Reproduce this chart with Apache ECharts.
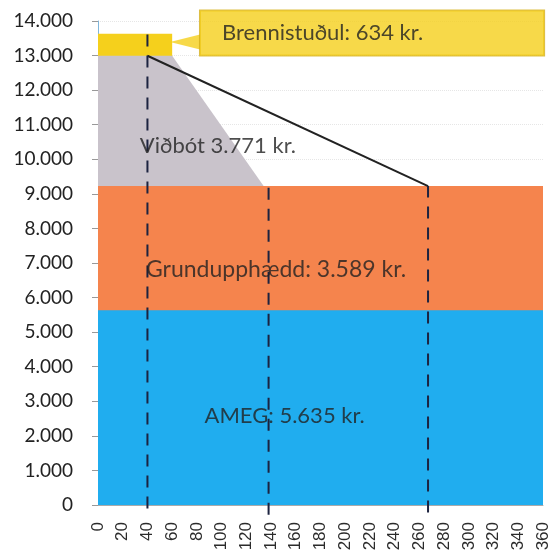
<!DOCTYPE html>
<html><head><meta charset="utf-8">
<script src="https://cdn.jsdelivr.net/npm/echarts@6/dist/echarts.min.js"></script>
<style>html,body{margin:0;padding:0;background:#fff}#c{width:556px;height:554px}</style>
</head><body><div id="c"></div>
<script>
// values (kr.)
const ameg = 5635;
const grunn = 3589;
const vidbot = 3771;
const brenni = 634;
// x positions (breakpoints) of the scheme
const xBrenniEnd = 60;
const xVidbotFlatEnd = 60;
const xVidbotEnd = 134;
const xMarks = [40, 138, 267];
const xMax = 360;
const yMax = 14000;
const labels = {
  ameg: 'AMEG: 5.635 kr.',
  grunn: 'Grundupphædd: 3.589 kr.',
  vidbot: 'Viðbót 3.771 kr.',
  brenni: 'Brennistuðul: 634 kr.'
};
const labelPos = {
  ameg: [151, 2574],
  grunn: [144, 6798],
  vidbot: [97, 10385],
  brenni: [82.5, 13650],
  pointer: [70.4, 13393]
};

const lvl1 = ameg, lvl2 = ameg + grunn, lvl3 = lvl2 + vidbot, lvl4 = lvl3 + brenni;
const FONT = 'Lato, "Open Sans", sans-serif';
const fmt = v => v === 0 ? '0' : v.toLocaleString('de-DE');
const YELLOW = '#f5d01c';

function areaSeries(name, data, color) {
  return { name, type: 'line', data, symbol: 'none', silent: true,
    lineStyle: { width: 0 }, areaStyle: { color, opacity: 1 } };
}
function txt(key, extra) {
  return { type: 'scatter', symbolSize: 0, silent: true, z: 10,
    data: [labelPos[key]],
    label: Object.assign({ show: true, formatter: labels[key], position: 'inside',
      color: '#222', fontSize: 22, fontFamily: FONT }, extra || {}) };
}
function dashed(x, yFrom, yTo) {
  return { type: 'line', symbol: 'none', silent: true, z: 5, clip: false,
    data: [[x, yFrom], [x, yTo]],
    lineStyle: { color: '#1c2340', width: 2, type: [12, 9] } };
}

const series = [
  areaSeries('Brennistuðul', [[0, lvl4], [xBrenniEnd, lvl4]], YELLOW),
  areaSeries('Viðbót', [[0, lvl3], [xVidbotFlatEnd, lvl3], [xVidbotEnd, lvl2]], '#c9c3cb'),
  areaSeries('Grundupphædd', [[0, lvl2], [xMax, lvl2]], '#f5844d'),
  areaSeries('AMEG', [[0, lvl1], [xMax, lvl1]], '#20adef'),
  { type: 'line', symbol: 'none', silent: true, z: 5,
    data: [[xMarks[0], lvl3], [xMarks[2], lvl2]],
    lineStyle: { color: '#222', width: 2 } },
  dashed(xMarks[0], -100, lvl4 + 80),
  dashed(xMarks[1], -280, lvl2),
  dashed(xMarks[2], -220, lvl2),
  { type: 'scatter', silent: true, z: 8, symbol: 'triangle', symbolRotate: 90,
    symbolSize: [15, 30], data: [labelPos.pointer],
    itemStyle: { color: YELLOW } },
  txt('ameg'), txt('grunn', { fontSize: 23 }), txt('vidbot'),
  txt('brenni', { position: 'right', distance: 0, backgroundColor: YELLOW,
    borderColor: '#d4ae18', borderWidth: 1, padding: [12, 121, 11, 22] })
];

const chart = echarts.init(document.getElementById('c'));
chart.setOption({
  animation: false,
  grid: { left: 98, right: 13, top: 21, bottom: 49, containLabel: false },
  xAxis: { type: 'value', min: 0, max: xMax, interval: 20,
    axisLine: { show: true, lineStyle: { color: '#aaa' } },
    axisTick: { show: false },
    splitLine: { show: false },
    axisLabel: { rotate: 90, fontSize: 17, color: '#2b2b2b', fontFamily: '"Liberation Sans", Arial, sans-serif', margin: 17 } },
  yAxis: { type: 'value', min: 0, max: yMax, interval: 1000,
    axisLine: { show: true, lineStyle: { color: '#7fb6dc' } },
    axisTick: { show: true, length: 6, lineStyle: { color: '#999' } },
    splitLine: { show: true, lineStyle: { color: '#e6e6e6', type: 'dotted' } },
    axisLabel: { fontSize: 19, color: '#222', fontFamily: FONT, margin: 25, formatter: fmt } },
  series
});
</script></body></html>
